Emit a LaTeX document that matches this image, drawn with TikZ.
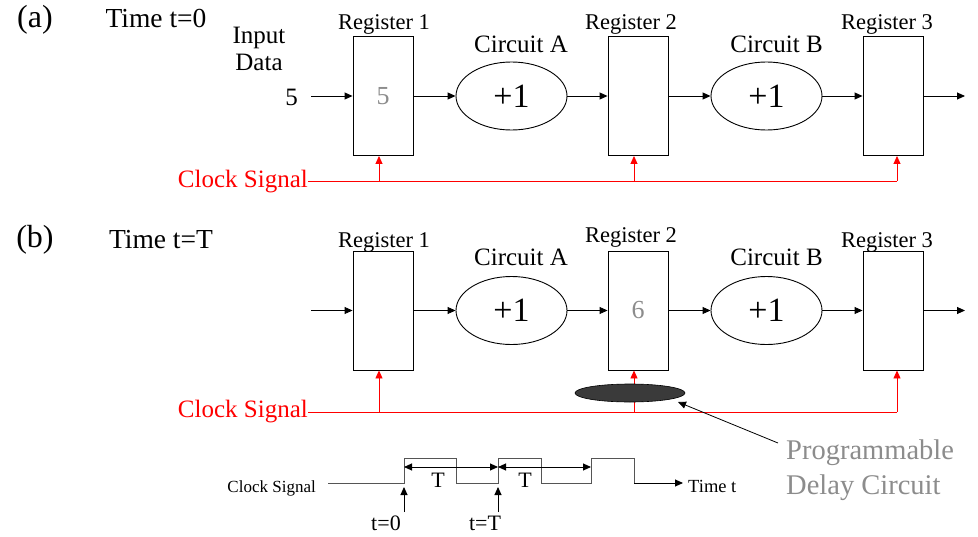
\documentclass[tikz,border=0pt]{standalone}
\usepackage{fontspec}
\setmainfont{Liberation Serif}
\usetikzlibrary{arrows.meta,shapes.geometric}
\definecolor{txtgray}{HTML}{8C8C8C}
\definecolor{wavegray}{HTML}{555555}
\definecolor{delayfill}{HTML}{3A3A3A}
\newcommand{\fs}[1]{\fontsize{#1}{#1}\selectfont}
\tikzset{
  arr/.style={draw=black, line width=0.9pt, -{Triangle[length=8pt,width=7pt]}},
  rarr/.style={draw=red, line width=0.9pt, -{Triangle[length=8pt,width=7pt]}},
  rline/.style={draw=red, line width=0.9pt},
  regbox/.style={draw=black, line width=0.9pt, rectangle, minimum width=60pt, minimum height=119pt, inner sep=0pt, text=txtgray, font=\fs{26}},
  circbox/.style={draw=black, line width=0.9pt, ellipse, minimum width=111pt, minimum height=68pt, inner sep=0pt, font=\fs{34}},
  lbl/.style={inner sep=0pt, font=\fs{22.5}},
  clbl/.style={inner sep=0pt, font=\fs{25}},
  big/.style={inner sep=0pt, font=\fs{27.5}},
  ptxt/.style={inner sep=0pt, font=\fs{28.5}, text=txtgray, anchor=west},
}
\begin{document}
\begin{tikzpicture}[x=1pt,y=-1pt]
\useasboundingbox (0,0) rectangle (978,536);

% ---------------- (a) ----------------
\node[inner sep=0pt, font=\fs{32}] (pa) at (35,20) {(a)};
\node[big] (ta) at (156,18) {Time t=0};
\node[clbl, align=center] (ind) at (259,49) {Input\\[2pt]Data};
\node[clbl, anchor=east] (five) at (298,97) {5};

\node[regbox] (a1) at (383,96) {5};
\node[regbox] (a2) at (638,96) {};
\node[regbox] (a3) at (893,96) {};
\node[circbox] (aA) at (511.5,96) {+1};
\node[circbox] (aB) at (766.5,96) {+1};

\node[lbl] (la1) at (384,24) {Register 1};
\node[lbl] (la2) at (631,24) {Register 2};
\node[lbl] (la3) at (887,24) {Register 3};
\node[clbl] (lcA) at (521,44) {Circuit A};
\node[clbl] (lcB) at (776.5,44) {Circuit B};

\coordinate (ain) at (311,96);
\coordinate (aout) at (965,96);
\draw[arr] (ain) -- (a1);
\draw[arr] (a1) -- (aA);
\draw[arr] (aA) -- (a2);
\draw[arr] (a2) -- (aB);
\draw[arr] (aB) -- (a3);
\draw[arr] (a3) -- (aout);

\node[clbl, text=red, anchor=east] (aclk) at (308,182) {Clock Signal};
\coordinate (ac1) at (379,181);
\coordinate (ac2) at (634,181);
\coordinate (ac3) at (897,181);
\draw[rline] (aclk.east |- ac1) -- (ac3);
\draw[rarr] (ac1) -- (ac1 |- a1.south);
\draw[rarr] (ac2) -- (ac2 |- a2.south);
\draw[rarr] (ac3) -- (ac3 |- a3.south);

% ---------------- (b) ----------------
\node[inner sep=0pt, font=\fs{32}] (pb) at (35,240) {(b)};
\node[big] (tb) at (161,240) {Time t=T};

\node[regbox] (b1) at (383,310.5) {};
\node[regbox] (b2) at (638,310.5) {6};
\node[regbox] (b3) at (893,310.5) {};
\node[circbox] (bA) at (511.5,310.5) {+1};
\node[circbox] (bB) at (766.5,310.5) {+1};

\node[lbl] (lb1) at (384,242) {Register 1};
\node[lbl] (lb2) at (631,237) {Register 2};
\node[lbl] (lb3) at (887,242) {Register 3};
\node[clbl] (lcbA) at (521,257) {Circuit A};
\node[clbl] (lcbB) at (776.5,257) {Circuit B};

\coordinate (bin) at (311,310.5);
\coordinate (bout) at (965,310.5);
\draw[arr] (bin) -- (b1);
\draw[arr] (b1) -- (bA);
\draw[arr] (bA) -- (b2);
\draw[arr] (b2) -- (bB);
\draw[arr] (bB) -- (b3);
\draw[arr] (b3) -- (bout);

\node[clbl, text=red, anchor=east] (bclk) at (308,412) {Clock Signal};
\coordinate (bc1) at (379,412);
\coordinate (bc2) at (634,412);
\coordinate (bc3) at (897,412);
\draw[rline] (bclk.east |- bc1) -- (bc3);
\draw[rarr] (bc1) -- (bc1 |- b1.south);
\draw[rarr] (bc2) -- (bc2 |- b2.south);
\draw[rarr] (bc3) -- (bc3 |- b3.south);

\node[ellipse, fill=delayfill, draw=black, line width=0.6pt, minimum width=110pt, minimum height=18pt, inner sep=0pt] (dly) at (630,393) {};

\node[ptxt] (prog1) at (786,453) {Programmable};
\node[ptxt] (prog2) at (786,488) {Delay Circuit};
\coordinate (ptail) at (778,443);
\draw[arr, line width=0.8pt] (ptail) -- (678,402);

% ---------------- timing ----------------
\node[inner sep=0pt, font=\fs{17}, anchor=east] (tclk) at (316,488) {Clock Signal};
\coordinate (w0) at (328,483);
\coordinate (wend) at (683,483);
\draw[draw=wavegray, line width=1pt] (w0) -- (404,483) -- (404,458) -- (456,458) -- (456,483) -- (498,483) -- (498,458) -- (541,458) -- (541,483) -- (591,483) -- (591,458) -- (634,458) -- (634,483) -- (675,483);
\draw[arr] (634,483) -- (wend);
\node[inner sep=0pt, font=\fs{18.5}, anchor=west] (tt) at (688,486) {Time t};

\coordinate (d0) at (404,467);
\coordinate (d1) at (498,467);
\coordinate (d2) at (591,467);
\draw[line width=0.9pt, {Triangle[length=8pt,width=7pt]}-{Triangle[length=8pt,width=7pt]}] (d0) -- (d1);
\draw[line width=0.9pt, {Triangle[length=8pt,width=7pt]}-{Triangle[length=8pt,width=7pt]}] (d1) -- (d2);
\node[inner sep=0pt, font=\fs{22}] (T1) at (438,480) {T};
\node[inner sep=0pt, font=\fs{22}] (T2) at (525,480) {T};

\coordinate (u0) at (404,512);
\coordinate (u1) at (498,512);
\draw[arr] (u0) -- (404,487);
\draw[arr] (u1) -- (498,487);
\node[inner sep=0pt, font=\fs{22}] (t0) at (386,523) {t=0};
\node[inner sep=0pt, font=\fs{22}] (tT) at (485,523) {t=T};
\end{tikzpicture}
\end{document}
